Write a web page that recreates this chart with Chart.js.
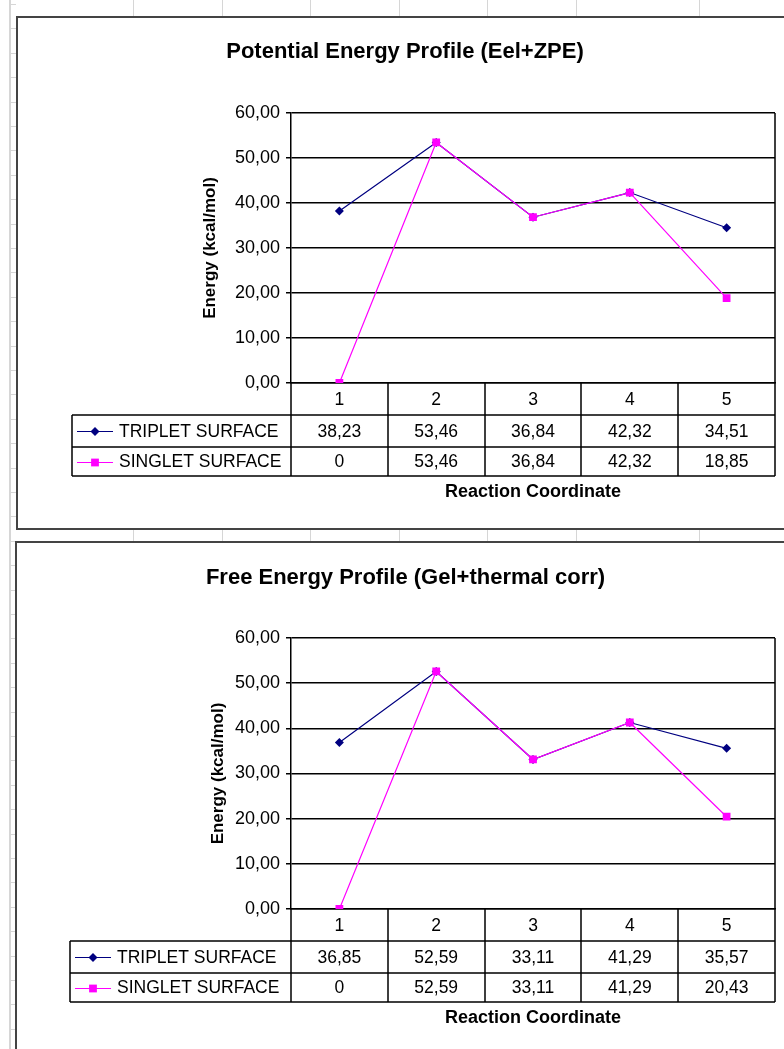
<!DOCTYPE html>
<html>
<head>
<meta charset="utf-8">
<script src="https://cdn.jsdelivr.net/npm/chart.js@4.4.0/dist/chart.umd.min.js"></script>
<style>
    html, body { margin: 0; padding: 0; background: #fff; width: 784px; height: 1049px; overflow: hidden; }
    .sheet { position: absolute; left: 0; top: 0; width: 784px; height: 1049px; }
    .gl { position: absolute; background: #d6d6d6; }
    .box { position: absolute; border: 2px solid #444; background: #fff; }
    .box canvas { position: absolute; left: 0; top: 0; }
</style>
</head>
<body>
<div class="sheet" id="sheet"></div>
<div class="box" style="left:16px; top:16px; width:800px; height:510px;">
    <canvas id="pesChart" width="766" height="510"></canvas>
</div>
<div class="box" style="left:15px; top:541px; width:800px; height:530px;">
    <canvas id="fesChart" width="767" height="506"></canvas>
</div>

<script>
const steps = ['1', '2', '3', '4', '5'];
const seriesNames = ['TRIPLET SURFACE', 'SINGLET SURFACE'];
const energyTicks = [0, 10, 20, 30, 40, 50, 60];

const pesTriplet = [38.23, 53.46, 36.84, 42.32, 34.51];
const pesSinglet = [0, 53.46, 36.84, 42.32, 18.85];

const fesTriplet = [36.85, 52.59, 33.11, 41.29, 35.57];
const fesSinglet = [0, 52.59, 33.11, 41.29, 20.43];

const FONT = '"Liberation Sans", Arial, sans-serif';
Chart.defaults.font.family = FONT;
Chart.defaults.color = '#000';

// spreadsheet grid peeking around the chart boxes
(function drawSheet() {
    const sheet = document.getElementById('sheet');
    const add = (l, t, w, h) => {
        const d = document.createElement('div');
        d.className = 'gl';
        d.style.cssText = `left:${l}px;top:${t}px;width:${w}px;height:${h}px`;
        sheet.appendChild(d);
    };
    add(9, 0, 2, 1049);
    for (let y = 4; y < 1049; y += 24.4) add(9, Math.round(y), 7, 1);
    [133, 222, 310, 399, 487, 576, 699].forEach(x => {
        add(x, 0, 1, 16);
        add(x, 530, 1, 11);
    });
})();

function fmt(v) {
    return String(v).replace('.', ',');
}

function drawMarker(ctx, style, x, y, r, color) {
    ctx.fillStyle = color;
    ctx.beginPath();
    if (style === 'rectRot') {
        ctx.moveTo(x, y - r);
        ctx.lineTo(x + r, y);
        ctx.lineTo(x, y + r);
        ctx.lineTo(x - r, y);
    } else {
        const s = r * Math.SQRT1_2;
        ctx.rect(x - s, y - s, 2 * s, 2 * s);
    }
    ctx.closePath();
    ctx.fill();
}

// Excel style data table under the plot, columns follow the x scale
const dataTable = {
    id: 'dataTable',
    afterDraw(chart, args, opts) {
        const { ctx, chartArea: area, scales: { x } } = chart;
        const n = chart.data.labels.length;
        const colW = (area.right - area.left) / n;
        const top = area.bottom;
        const r1 = top + opts.rows[0];
        const r2 = r1 + opts.rows[1];
        const bottom = r2 + opts.rows[2];
        const px = v => Math.round(v);

        ctx.save();
        ctx.strokeStyle = '#000';
        ctx.lineWidth = 1.5;
        ctx.beginPath();
        [r1, r2, bottom].forEach(y => {
            ctx.moveTo(opts.left, px(y));
            ctx.lineTo(px(area.right), px(y));
        });
        ctx.moveTo(px(opts.left), px(r1));
        ctx.lineTo(px(opts.left), px(bottom));
        for (let i = 0; i <= n; i++) {
            const xx = px(area.left + i * colW);
            ctx.moveTo(xx, i === n ? px(area.top) : px(top));
            ctx.lineTo(xx, px(bottom));
        }
        ctx.stroke();

        ctx.font = '17.5px ' + FONT;
        ctx.fillStyle = '#000';
        ctx.textAlign = 'center';
        ctx.textBaseline = 'middle';
        chart.data.labels.forEach((lab, i) => {
            ctx.fillText(lab, x.getPixelForValue(i), (top + r1) / 2 + 1);
        });

        const rowMid = [(r1 + r2) / 2, (r2 + bottom) / 2];
        chart.data.datasets.forEach((ds, k) => {
            const cy = rowMid[k];
            ds.data.forEach((v, i) => {
                ctx.fillStyle = '#000';
                ctx.textAlign = 'center';
                ctx.fillText(fmt(v), x.getPixelForValue(i), cy + 1);
            });
            // legend key
            ctx.strokeStyle = ds.borderColor;
            ctx.lineWidth = 1;
            ctx.beginPath();
            ctx.moveTo(opts.left + 5, Math.round(cy) + 0.5);
            ctx.lineTo(opts.left + 41, Math.round(cy) + 0.5);
            ctx.stroke();
            drawMarker(ctx, ds.pointStyle, opts.left + 23, Math.round(cy) + 0.5, ds.pointRadius, ds.borderColor);
            ctx.fillStyle = '#000';
            ctx.textAlign = 'left';
            ctx.fillText(ds.label, opts.left + 47, cy + 1);
        });
        ctx.restore();
    }
};

function makeChart(id, title, triplet, singlet, box) {
    new Chart(document.getElementById(id), {
        type: 'line',
        data: {
            labels: steps,
            datasets: [{
                label: seriesNames[0],
                data: triplet,
                borderColor: '#000080',
                backgroundColor: '#000080',
                borderWidth: 1.2,
                pointStyle: 'rectRot',
                pointRadius: 4.5,
                pointBorderWidth: 0,
                tension: 0,
                order: 2
            }, {
                label: seriesNames[1],
                data: singlet,
                borderColor: '#ff00ff',
                backgroundColor: '#ff00ff',
                borderWidth: 1.2,
                pointStyle: 'rect',
                pointRadius: 5.5,
                pointBorderWidth: 0,
                tension: 0,
                order: 1
            }]
        },
        options: {
            responsive: false,
            animation: false,
            events: [],
            layout: { padding: { left: box.padL, right: box.padR, top: 0, bottom: 0 } },
            plugins: {
                legend: { display: false },
                tooltip: { enabled: false },
                title: {
                    display: true,
                    text: title,
                    color: '#000',
                    font: { size: 22, weight: 'bold' },
                    padding: { top: box.titleTop, bottom: box.titleBottom }
                },
                dataTable: { left: box.tableLeft, rows: [32, 32, 29] }
            },
            scales: {
                x: {
                    offset: true,
                    grid: { display: false },
                    border: { display: true, color: '#000', width: 1.5 },
                    ticks: { display: false },
                    title: {
                        display: true,
                        text: 'Reaction Coordinate',
                        color: '#000',
                        font: { size: 18, weight: 'bold' },
                        padding: { top: 0, bottom: box.xTitlePad }
                    },
                    afterFit(s) { s.height = box.xHeight; }
                },
                y: {
                    min: energyTicks[0],
                    max: energyTicks[energyTicks.length - 1],
                    grid: { color: '#000', lineWidth: 1.5, tickLength: 5, tickColor: '#000' },
                    border: { display: true, color: '#000', width: 1.5 },
                    ticks: {
                        stepSize: energyTicks[1] - energyTicks[0],
                        padding: 6,
                        color: '#000',
                        font: { size: 18 },
                        callback: v => v.toFixed(2).replace('.', ',')
                    },
                    title: {
                        display: true,
                        text: 'Energy (kcal/mol)',
                        color: '#000',
                        font: { size: 17, weight: 'bold' },
                        padding: { top: box.yTitlePad, bottom: 0 }
                    },
                    afterFit(s) { s.width = box.yWidth; }
                }
            }
        },
        plugins: [dataTable]
    });
}

makeChart('pesChart', 'Potential Energy Profile (Eel+ZPE)', pesTriplet, pesSinglet, {
    padL: 17, padR: 9, yWidth: 256, yTitlePad: 164.8,
    titleTop: 20.8, titleBottom: 47.8,
    xHeight: 145, xTitlePad: 25.2, tableLeft: 54
});

makeChart('fesChart', 'Free Energy Profile (Gel+thermal corr)', fesTriplet, fesSinglet, {
    padL: 19, padR: 9, yWidth: 255, yTitlePad: 171.8,
    titleTop: 21.8, titleBottom: 46.8,
    xHeight: 140, xTitlePad: 20.2, tableLeft: 53
});
</script>
</body>
</html>
